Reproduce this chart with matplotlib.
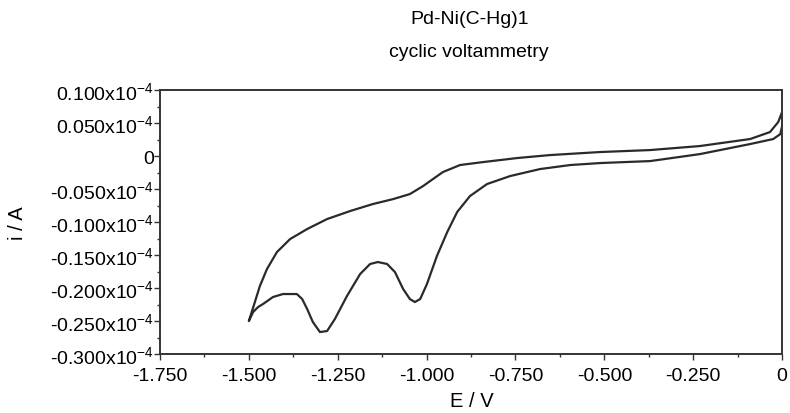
import matplotlib
matplotlib.use('Agg')
import matplotlib.pyplot as plt
from matplotlib.ticker import AutoMinorLocator

plt.rcParams['font.family'] = ['Liberation Sans', 'DejaVu Sans']
plt.rcParams['mathtext.default'] = 'regular'
plt.rcParams['axes.unicode_minus'] = False

# forward scan 0 -> -1.5 V (current in 1e-4 A)
e_fwd = [0.000, 0.000, -0.005, -0.025, -0.090, -0.231, -0.371, -0.512, -0.596, -0.681,
         -0.765, -0.830, -0.878, -0.914, -0.942, -0.971, -0.999, -1.018, -1.033, -1.047,
         -1.066, -1.089, -1.111, -1.137, -1.159, -1.187, -1.224, -1.258, -1.280, -1.300,
         -1.320, -1.336, -1.350, -1.365, -1.404, -1.432, -1.460, -1.474, -1.488, -1.500]
i_fwd = [0.0667, 0.0455, 0.0333, 0.0258, 0.0182, 0.0030, -0.0076, -0.0106, -0.0136, -0.0197,
         -0.0303, -0.0424, -0.0606, -0.0848, -0.1152, -0.1515, -0.1939, -0.2167, -0.2212, -0.2167,
         -0.2015, -0.1758, -0.1636, -0.1606, -0.1636, -0.1788, -0.2121, -0.2470, -0.2652, -0.2667,
         -0.2515, -0.2318, -0.2167, -0.2091, -0.2091, -0.2136, -0.2242, -0.2288, -0.2364, -0.2500]

# reverse scan -1.5 -> 0 V
e_rev = [-1.500, -1.483, -1.469, -1.449, -1.421, -1.384, -1.336, -1.280, -1.215, -1.151,
         -1.094, -1.047, -1.010, -0.982, -0.954, -0.906, -0.841, -0.745, -0.653, -0.512,
         -0.371, -0.231, -0.090, -0.034, -0.011, 0.000]
i_rev = [-0.2500, -0.2212, -0.1970, -0.1712, -0.1455, -0.1258, -0.1106, -0.0955, -0.0833, -0.0727,
         -0.0652, -0.0576, -0.0455, -0.0348, -0.0242, -0.0136, -0.0091, -0.0030, 0.0015, 0.0061,
         0.0091, 0.0152, 0.0258, 0.0364, 0.0515, 0.0667]

xticks = [-1.75, -1.5, -1.25, -1.0, -0.75, -0.5, -0.25, 0.0]
xlabels = ['-1.750', '-1.500', '-1.250', '-1.000', '-0.750', '-0.500', '-0.250', '0']
yticks = [0.1, 0.05, 0.0, -0.05, -0.1, -0.15, -0.2, -0.25, -0.3]
ylabels = ['0.100x10$^{-4}$', '0.050x10$^{-4}$', '0', '-0.050x10$^{-4}$', '-0.100x10$^{-4}$',
           '-0.150x10$^{-4}$', '-0.200x10$^{-4}$', '-0.250x10$^{-4}$', '-0.300x10$^{-4}$']

fig = plt.figure(figsize=(7.9, 4.14), dpi=100)
ax = fig.add_axes([0.2025, 0.1425, 0.7875, 0.6375])

ax.plot(e_fwd + e_rev, i_fwd + i_rev, color='#2a2a2a', lw=1.6,
        solid_joinstyle='round', solid_capstyle='round')

ax.set_xlim(-1.75, 0)
ax.set_ylim(-0.3, 0.1)
ax.set_xticks(xticks)
ax.set_xticklabels(xlabels)
ax.set_yticks(yticks)
ax.set_yticklabels(ylabels)
ax.xaxis.set_minor_locator(AutoMinorLocator(2))
ax.yaxis.set_minor_locator(AutoMinorLocator(2))
ax.tick_params(which='both', direction='out', colors='#333333', labelcolor='black',
               labelsize=14, width=1.0)
ax.tick_params(which='major', length=4)
ax.tick_params(which='minor', length=2.5)
ax.tick_params(axis='y', pad=0.5)
ax.tick_params(axis='x', pad=5)
for s in ax.spines.values():
    s.set_color('#333333')
    s.set_linewidth(1.4)

fig.text(0.594, 0.952, 'Pd-Ni(C-Hg)1', ha='center', va='center', fontsize=14)
fig.text(0.594, 0.872, 'cyclic voltammetry', ha='center', va='center', fontsize=14)
fig.text(0.597, 0.030, 'E / V', ha='center', va='center', fontsize=14.5)
fig.text(0.022, 0.46, 'i / A', ha='center', va='center', rotation=90, fontsize=14.5)

fig.savefig('out.png', dpi=100)
